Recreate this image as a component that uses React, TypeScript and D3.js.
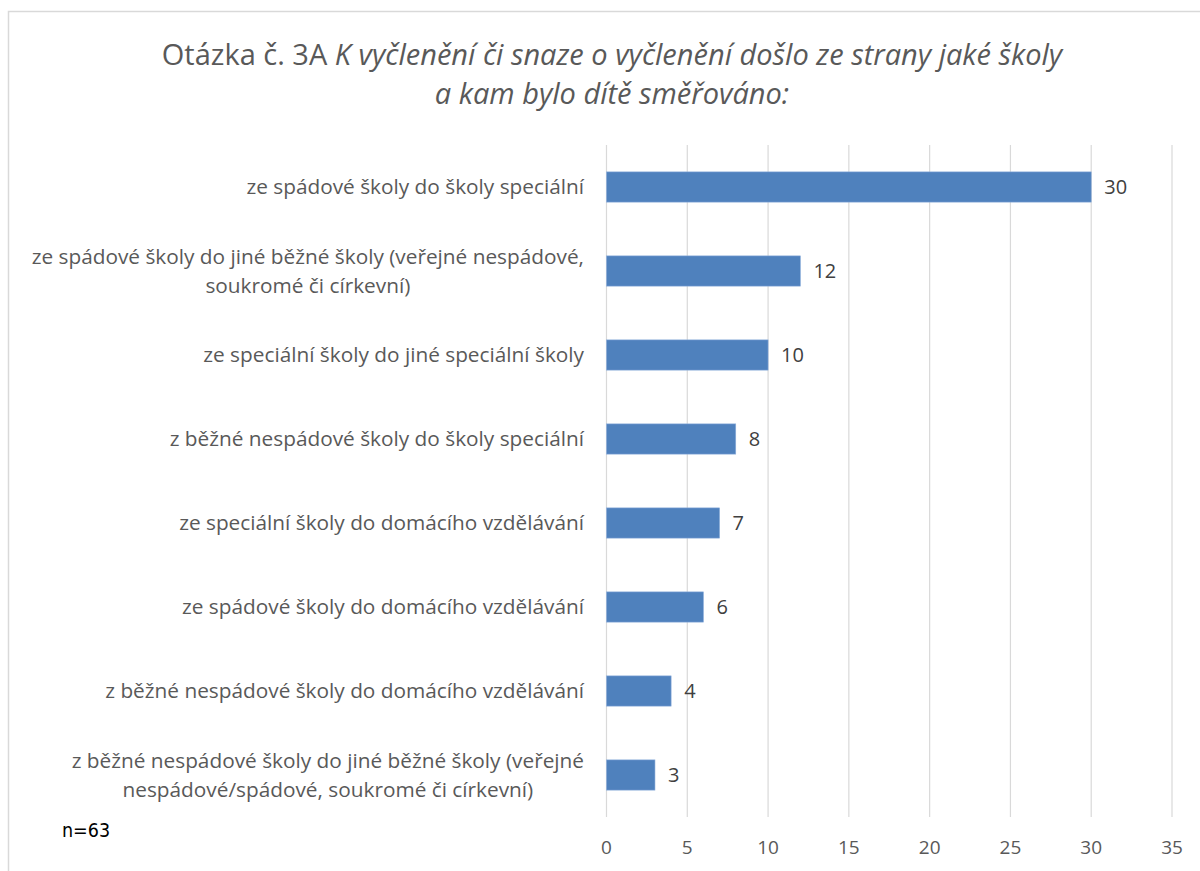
import React, { useRef, useEffect } from 'react';
import * as d3 from 'd3';

// categories (line breaks as in the original chart)
const categories = [
    'ze spádové školy do školy speciální',
    'ze spádové školy do jiné běžné školy (veřejné nespádové,\nsoukromé či církevní)',
    'ze speciální školy do jiné speciální školy',
    'z běžné nespádové školy do školy speciální',
    'ze speciální školy do domácího vzdělávání',
    'ze spádové školy do domácího vzdělávání',
    'z běžné nespádové školy do domácího vzdělávání',
    'z běžné nespádové školy do jiné běžné školy (veřejné\nnespádové/spádové, soukromé či církevní)',
];
const counts = [30, 12, 10, 8, 7, 6, 4, 3];
const xTicks = [0, 5, 10, 15, 20, 25, 30, 35];

const titleLead = 'Otázka č. 3A ';
const titleItalic1 = 'K vyčlenění či snaze o vyčlenění došlo ze strany jaké školy';
const titleItalic2 = 'a kam bylo dítě směřováno:';
const note = 'n=63';

const FONT = '"Open Sans", Lato, sans-serif';

export default function App() {
    const chartRef = useRef<SVGSVGElement>(null);
    const width = 1200, height = 871;

    useEffect(() => {
        const margin = { top: 145, right: 28, bottom: 54, left: 606.5 };
        const svg = d3.select(chartRef.current);
        svg.selectAll('*').remove();

        // chart frame
        svg.append('rect')
            .attr('x', 8.5).attr('y', 11.5)
            .attr('width', 1300).attr('height', 1000)
            .attr('fill', '#fff')
            .attr('stroke', '#d9d9d9')
            .attr('stroke-width', 1.5);

        const xScale = d3.scaleLinear()
            .domain([0, 35])
            .range([margin.left, width - margin.right]);

        const yScale = d3.scaleBand<string>()
            .domain(categories)
            .range([margin.top, height - margin.bottom])
            .paddingInner(0.64)
            .paddingOuter(0.32);

        // gridlines
        svg.append('g').selectAll('line').data(xTicks).join('line')
            .attr('x1', d => xScale(d)).attr('x2', d => xScale(d))
            .attr('y1', margin.top).attr('y2', height - margin.bottom)
            .attr('stroke', '#d9d9d9')
            .attr('stroke-width', 1.2);

        // tick labels
        svg.append('g').selectAll('text').data(xTicks).join('text')
            .attr('x', d => xScale(d))
            .attr('y', 854)
            .attr('text-anchor', 'middle')
            .attr('font-family', FONT)
            .attr('font-size', 19)
            .attr('fill', '#595959')
            .text(d => d);

        // bars
        svg.append('g').selectAll('rect').data(counts).join('rect')
            .attr('x', xScale(0))
            .attr('y', (d, i) => yScale(categories[i])!)
            .attr('width', d => xScale(d) - xScale(0))
            .attr('height', yScale.bandwidth())
            .attr('fill', '#4f81bd')
            .attr('stroke', '#8eaedb')
            .attr('stroke-width', 0.6);

        // value labels
        svg.append('g').selectAll('text').data(counts).join('text')
            .attr('x', d => xScale(d) + 13)
            .attr('y', (d, i) => yScale(categories[i])! + yScale.bandwidth() / 2)
            .attr('dy', '0.35em')
            .attr('font-family', FONT)
            .attr('font-size', 20)
            .attr('fill', '#404040')
            .text(d => d);

        // category labels: block right aligned, lines centred inside block
        const labelRight = 584;
        const lineH = 29;
        categories.forEach(cat => {
            const lines = cat.split('\n');
            const g = svg.append('g');
            const cy = yScale(cat)! + yScale.bandwidth() / 2;
            const texts = lines.map((ln, j) =>
                g.append('text')
                    .attr('y', cy + (j - (lines.length - 1) / 2) * lineH)
                    .attr('dy', '0.35em')
                    .attr('text-anchor', 'middle')
                    .attr('font-family', FONT)
                    .attr('font-size', 20.8)
                    .attr('fill', '#595959')
                    .text(ln));
            const maxW = d3.max(texts, t => (t.node() as SVGTextElement).getComputedTextLength()) || 0;
            texts.forEach(t => t.attr('x', labelRight - maxW / 2));
        });

        // title
        const t1 = svg.append('text')
            .attr('x', 612).attr('y', 65)
            .attr('text-anchor', 'middle')
            .attr('font-family', FONT)
            .attr('font-size', 29)
            .attr('fill', '#595959');
        t1.append('tspan').text(titleLead);
        t1.append('tspan').attr('font-style', 'italic').text(titleItalic1);

        svg.append('text')
            .attr('x', 612).attr('y', 104)
            .attr('text-anchor', 'middle')
            .attr('font-family', FONT)
            .attr('font-size', 29)
            .attr('font-style', 'italic')
            .attr('fill', '#595959')
            .text(titleItalic2);

        // sample size note
        svg.append('text')
            .attr('x', 62).attr('y', 837)
            .attr('font-family', '"DejaVu Sans Condensed", "DejaVu Sans", sans-serif')
            .attr('font-size', 19.5)
            .attr('fill', '#000')
            .text(note);
    }, []);

    return (
        <svg width={width} height={height} ref={chartRef}
            style={{ position: 'absolute', left: 0, top: 0, background: '#fff' }} />
    );
}
